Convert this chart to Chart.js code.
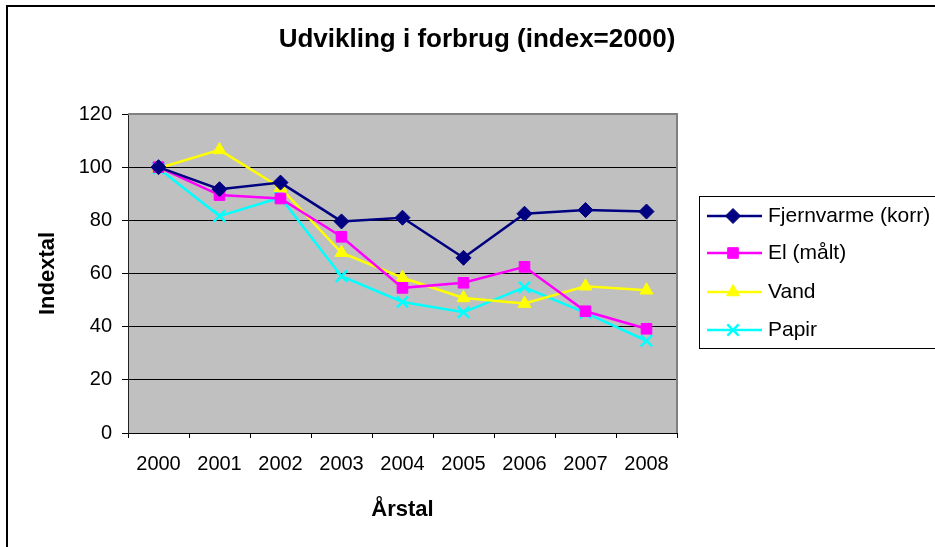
<!DOCTYPE html>
<html>
<head>
<meta charset="utf-8">
<script src="https://cdn.jsdelivr.net/npm/chart.js@4/dist/chart.umd.min.js"></script>
<style>
  html, body { margin: 0; padding: 0; background: #fff; overflow: hidden; }
  #wrap { width: 935px; height: 547px; }
</style>
</head>
<body>
<div id="wrap"><canvas id="forbrugChart" width="935" height="547"></canvas></div>
<script>
const years = ['2000', '2001', '2002', '2003', '2004', '2005', '2006', '2007', '2008'];
const fjernvarme = [100, 91.7, 94.2, 79.6, 81.0, 65.9, 82.5, 83.9, 83.3];
const el = [100, 89.5, 88.2, 73.8, 54.6, 56.5, 62.5, 45.8, 39.2];
const vand = [99.6, 106.5, 92.3, 67.8, 58.4, 50.8, 48.7, 55.2, 53.7];
const papir = [99.6, 81.6, 88.6, 59.0, 49.3, 45.4, 54.8, 45.2, 34.7];
const yTicks = [0, 20, 40, 60, 80, 100, 120];
const chartTitle = 'Udvikling i forbrug (index=2000)';

const FONT = "'Liberation Sans', Arial, sans-serif";

function series(label, data, color, style, radius) {
  return {
    label: label,
    data: data,
    borderColor: color,
    backgroundColor: color,
    borderWidth: 2.5,
    tension: 0,
    pointStyle: style,
    pointRadius: radius,
    pointHoverRadius: radius,
    pointBorderColor: color,
    pointBackgroundColor: color,
    pointBorderWidth: style === 'crossRot' ? 2.5 : 1
  };
}

// grey plot background, outer frame, title
const frame = {
  id: 'frame',
  beforeDraw(chart) {
    const ctx = chart.ctx;
    const a = chart.chartArea;
    ctx.save();
    ctx.fillStyle = '#fff';
    ctx.fillRect(0, 0, chart.width, chart.height);
    ctx.strokeStyle = '#000';
    ctx.lineWidth = 2;
    ctx.strokeRect(7, 6, 1000, 1000);
    ctx.fillStyle = '#c0c0c0';
    ctx.fillRect(a.left, a.top, a.right - a.left, a.bottom - a.top);
    ctx.fillStyle = '#000';
    ctx.font = 'bold 26px ' + FONT;
    ctx.textAlign = 'center';
    ctx.textBaseline = 'middle';
    ctx.fillText(chartTitle, 477, 40);
    ctx.restore();
  },
  beforeDatasetsDraw(chart) {
    const ctx = chart.ctx;
    const a = chart.chartArea;
    ctx.save();
    ctx.strokeStyle = '#808080';
    ctx.lineWidth = 2;
    ctx.beginPath();
    ctx.moveTo(a.left, a.top);
    ctx.lineTo(a.right, a.top);
    ctx.lineTo(a.right, a.bottom);
    ctx.stroke();
    ctx.restore();
  }
};

// legend box to the right of the plot
const sideLegend = {
  id: 'sideLegend',
  afterDraw(chart) {
    const ctx = chart.ctx;
    const x0 = 699, y0 = 196, rowY = [216, 253, 292, 330];
    ctx.save();
    ctx.strokeStyle = '#000';
    ctx.lineWidth = 1;
    ctx.strokeRect(x0 + 0.5, y0 + 0.5, 400, 152);
    chart.data.datasets.forEach((ds, i) => {
      const y = rowY[i];
      ctx.strokeStyle = ds.borderColor;
      ctx.lineWidth = 2.5;
      ctx.beginPath();
      ctx.moveTo(707, y);
      ctx.lineTo(762, y);
      ctx.stroke();
      ctx.fillStyle = ds.pointBackgroundColor;
      ctx.strokeStyle = ds.pointBorderColor;
      ctx.lineWidth = ds.pointBorderWidth;
      Chart.helpers.drawPoint(ctx, {
        pointStyle: ds.pointStyle,
        radius: ds.pointRadius,
        rotation: 0,
        borderWidth: ds.pointBorderWidth
      }, 733, y);
      ctx.fillStyle = '#000';
      ctx.font = '21px ' + FONT;
      ctx.textBaseline = 'middle';
      ctx.textAlign = 'left';
      ctx.fillText(ds.label, 768, y);
    });
    ctx.restore();
  }
};

new Chart(document.getElementById('forbrugChart'), {
  type: 'line',
  data: {
    labels: years,
    datasets: [
      series('Fjernvarme (korr)', fjernvarme, '#000080', 'rectRot', 7.5),
      series('El (målt)', el, '#ff00ff', 'rect', 7.5),
      series('Vand', vand, '#ffff00', 'triangle', 7.5),
      series('Papir', papir, '#00ffff', 'crossRot', 8)
    ]
  },
  options: {
    responsive: false,
    animation: false,
    layout: { padding: { left: 0, right: 258, top: 114, bottom: 0 } },
    plugins: {
      legend: { display: false },
      tooltip: { enabled: false },
      title: { display: false }
    },
    scales: {
      x: {
        offset: true,
        grid: {
          offset: true,
          drawOnChartArea: false,
          drawTicks: true,
          tickLength: 5,
          color: '#000'
        },
        border: { color: '#000', width: 1 },
        ticks: {
          color: '#000',
          padding: 14,
          maxRotation: 0,
          font: { family: FONT, size: 20 }
        },
        title: {
          display: true,
          text: 'Årstal',
          color: '#000',
          font: { family: FONT, size: 22, weight: 'bold' },
          padding: { top: 0, bottom: 24 }
        },
        afterFit(scale) { scale.height = 114; }
      },
      y: {
        min: 0,
        max: 120,
        afterBuildTicks(scale) { scale.ticks = yTicks.map(v => ({ value: v })); },
        grid: { color: '#000', lineWidth: 1, tickLength: 6 },
        border: { color: '#222', width: 1 },
        ticks: {
          color: '#000',
          padding: 10,
          font: { family: FONT, size: 20 }
        },
        title: {
          display: true,
          text: 'Indextal',
          color: '#000',
          font: { family: FONT, size: 22, weight: 'bold' },
          padding: { top: 35, bottom: 0 }
        },
        afterFit(scale) { scale.width = 128; }
      }
    }
  },
  plugins: [frame, sideLegend]
});
</script>
</body>
</html>
